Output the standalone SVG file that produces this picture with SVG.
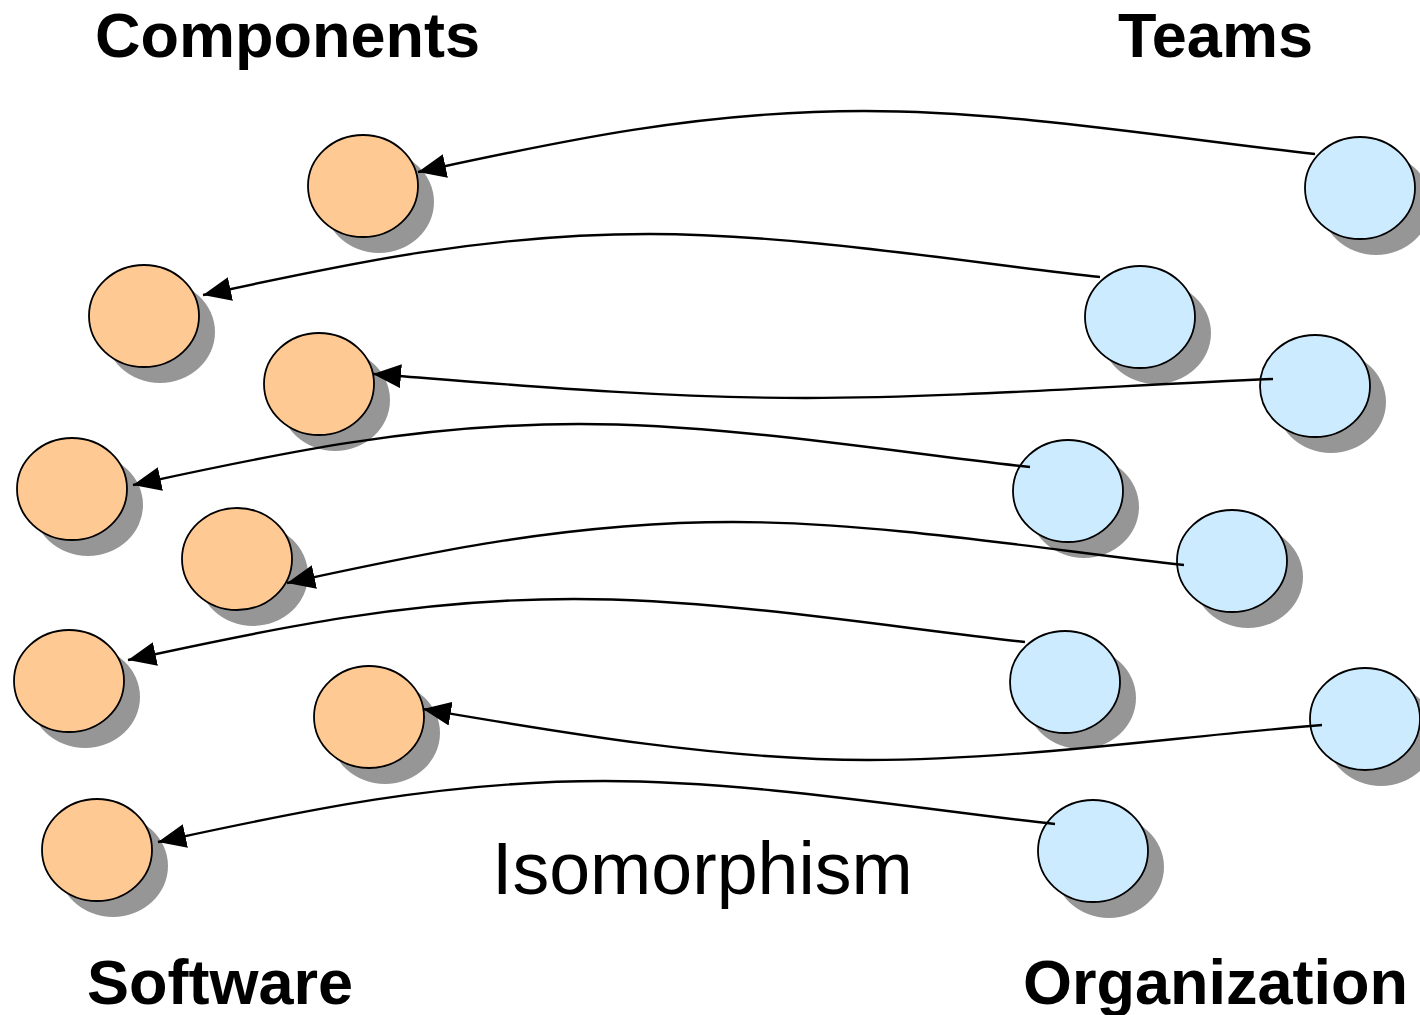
<svg xmlns="http://www.w3.org/2000/svg" width="1420" height="1015" viewBox="0 0 1420 1015">
  <style>
    .shadow { fill: #969696; }
    .comp { fill: #FFC993; stroke: #000; stroke-width: 1.8; }
    .team { fill: #CCEBFF; stroke: #000; stroke-width: 1.8; }
    .link { fill: none; stroke: #000; stroke-width: 2.4; marker-end: url(#arrow); }
    .title { font-family: "Liberation Sans", Arial, sans-serif; font-weight: bold; font-size: 63px; fill: #000; }
    .caption { font-family: "Liberation Sans", Arial, sans-serif; font-size: 73.5px; fill: #000; }
  </style>
  <defs>
    <marker id="arrow" viewBox="0 0 28 24" refX="28" refY="12" markerWidth="28" markerHeight="24" markerUnits="userSpaceOnUse" orient="auto">
      <path d="M0,0 L28,12 L0,24 z" fill="#000"/>
    </marker>
    <g id="compNode">
      <ellipse class="shadow" cx="16" cy="16" rx="55" ry="51"/>
      <ellipse class="comp" cx="0" cy="0" rx="55" ry="51"/>
    </g>
    <g id="teamNode">
      <ellipse class="shadow" cx="16" cy="16" rx="55" ry="51"/>
      <ellipse class="team" cx="0" cy="0" rx="55" ry="51"/>
    </g>
  </defs>
  <rect width="1420" height="1015" fill="#fff"/>

  <!-- headings -->
  <text class="title" x="95" y="57">Components</text>
  <text class="title" x="1118" y="57">Teams</text>
  <text class="title" x="87" y="1004">Software</text>
  <text class="title" x="1023" y="1004">Organization</text>
  <text class="caption" x="492" y="894">Isomorphism</text>

  <!-- software components -->
  <g id="comp1"><use href="#compNode" x="363" y="186"/></g>
  <g id="comp2"><use href="#compNode" x="144" y="316"/></g>
  <g id="comp3"><use href="#compNode" x="319" y="384"/></g>
  <g id="comp4"><use href="#compNode" x="72" y="489"/></g>
  <g id="comp5"><use href="#compNode" x="237" y="559"/></g>
  <g id="comp6"><use href="#compNode" x="69" y="681"/></g>
  <g id="comp7"><use href="#compNode" x="369" y="717"/></g>
  <g id="comp8"><use href="#compNode" x="97" y="850"/></g>

  <!-- organization teams -->
  <g id="team1"><use href="#teamNode" x="1360" y="188"/></g>
  <g id="team2"><use href="#teamNode" x="1140" y="317"/></g>
  <g id="team3"><use href="#teamNode" x="1315" y="386"/></g>
  <g id="team4"><use href="#teamNode" x="1068" y="491"/></g>
  <g id="team5"><use href="#teamNode" x="1232" y="561"/></g>
  <g id="team6"><use href="#teamNode" x="1065" y="682"/></g>
  <g id="team7"><use href="#teamNode" x="1365" y="719"/></g>
  <g id="team8"><use href="#teamNode" x="1093" y="851"/></g>

  <!-- team -> component mappings -->
  <g id="connectors">
    <path class="link" d="M1315,154 c-130,-14 -301,-43 -451,-43 c-170,0 -316,33 -446,61"/>
    <path class="link" d="M1100,277 c-130,-14 -301,-43 -451,-43 c-170,0 -316,33 -446,61"/>
    <path class="link" d="M1273,379 C1123,385 956,398 806,398 C656,398 503,384 373,374"/>
    <path class="link" d="M1030,467 c-130,-14 -301,-43 -451,-43 c-170,0 -316,33 -446,61"/>
    <path class="link" d="M1184,565 c-130,-14 -301,-43 -451,-43 c-170,0 -316,33 -446,61"/>
    <path class="link" d="M1025,642 c-130,-14 -301,-43 -451,-43 c-170,0 -316,33 -446,61"/>
    <path class="link" d="M1322,725 C1172,737 1018,760 868,760 C718,760 553,731 423,709"/>
    <path class="link" d="M1055,824 c-130,-14 -301,-43 -451,-43 c-170,0 -316,33 -446,61"/>
  </g>
</svg>
